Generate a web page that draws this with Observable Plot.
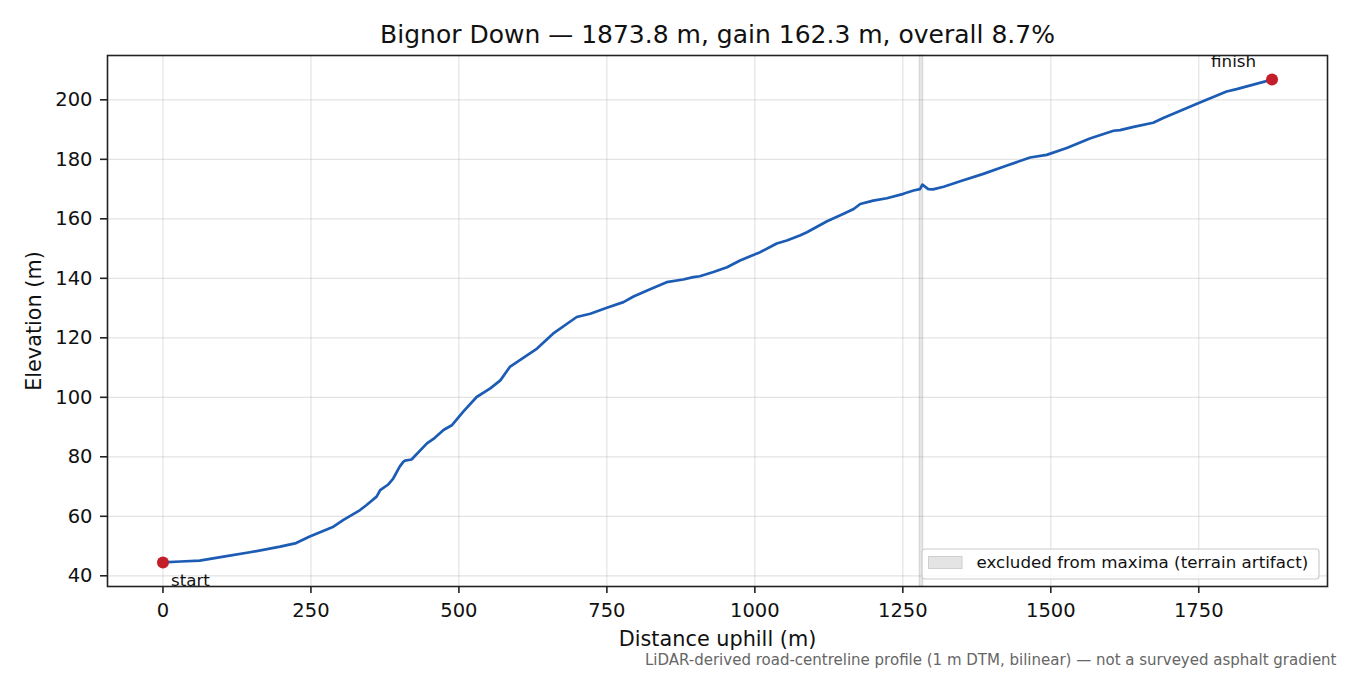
<!DOCTYPE html>
<html>
<head>
<meta charset="utf-8">
<script src="https://cdn.jsdelivr.net/npm/d3@7"></script>
<script src="https://cdn.jsdelivr.net/npm/@observablehq/plot@0.6"></script>
<style>
  html, body { margin: 0; padding: 0; background: #fff; }
  #chart { width: 1350px; height: 675px; }
</style>
</head>
<body>
<div id="chart"></div>
<script>
const distance = [0, 30, 62, 105, 147, 198, 225, 248, 288, 305, 333, 344, 361, 367, 380, 389, 400, 406, 409, 420, 446, 457, 474, 488, 507, 530, 553, 570, 586, 615, 632, 659, 699, 722, 750, 778, 795, 823, 851, 879, 896, 907, 930, 953, 975, 1009, 1037, 1054, 1076, 1088, 1122, 1150, 1167, 1178, 1200, 1223, 1251, 1268, 1279, 1283, 1293, 1301, 1319, 1347, 1386, 1426, 1465, 1493, 1527, 1566, 1606, 1617, 1640, 1673, 1690, 1719, 1752, 1797, 1814, 1873.8];
const elevation = [44.5, 44.8, 45.1, 46.5, 47.9, 49.8, 51.0, 53.2, 56.5, 58.8, 62.1, 63.8, 66.6, 68.8, 70.6, 72.7, 76.7, 78.3, 78.7, 79.1, 84.5, 86.0, 89.0, 90.6, 95.1, 100.1, 103.0, 105.7, 110.2, 114.1, 116.4, 121.4, 127.0, 128.1, 130.1, 132.0, 133.9, 136.3, 138.7, 139.6, 140.4, 140.7, 142.1, 143.7, 146.0, 148.8, 151.7, 152.7, 154.4, 155.5, 159.2, 161.7, 163.3, 165.0, 166.1, 166.9, 168.4, 169.5, 170.0, 171.5, 170.0, 169.9, 170.8, 172.6, 175.1, 177.9, 180.6, 181.5, 183.8, 187.0, 189.6, 189.8, 190.9, 192.3, 193.9, 196.3, 199.1, 202.8, 203.6, 206.8];
const endpointLabels = ["start", "finish"];
const excludedBand = [1278.5, 1284.5];
const xTicks = [0, 250, 500, 750, 1000, 1250, 1500, 1750];
const yTicks = [40, 60, 80, 100, 120, 140, 160, 180, 200];
const titleText = "Bignor Down — 1873.8 m, gain 162.3 m, overall 8.7%";
const xLabel = "Distance uphill (m)";
const yLabel = "Elevation (m)";
const captionText = "LiDAR-derived road-centreline profile (1 m DTM, bilinear) — not a surveyed asphalt gradient";
const legendLabel = "excluded from maxima (terrain artifact)";

const profile = distance.map((d, i) => ({d, e: elevation[i]}));
const ends = [
  {d: distance[0], e: elevation[0], label: endpointLabels[0]},
  {d: distance[distance.length - 1], e: elevation[elevation.length - 1], label: endpointLabels[1]}
];
const band = [{x1: excludedBand[0], x2: excludedBand[1]}];

const font = "DejaVu Sans, sans-serif";

const chart = Plot.plot({
  width: 1350,
  height: 675,
  marginLeft: 107,
  marginRight: 23,
  marginTop: 55,
  marginBottom: 89,
  style: {fontFamily: font, background: "#fff", overflow: "visible"},
  x: {domain: [-93.7, 1967.5], ticks: xTicks},
  y: {domain: [36.4, 214.9], ticks: yTicks},
  marks: [
    Plot.gridX(xTicks, {stroke: "#b0b0b0", strokeOpacity: 0.35, strokeWidth: 1.2}),
    Plot.gridY(yTicks, {stroke: "#b0b0b0", strokeOpacity: 0.35, strokeWidth: 1.2}),
    Plot.rectX(band, {x1: "x1", x2: "x2", fill: "#9a9a9a", fillOpacity: 0.25, stroke: "#9a9a9a", strokeOpacity: 0.35, strokeWidth: 1}),
    Plot.line(profile, {x: "d", y: "e", stroke: "#1c5cb4", strokeWidth: 2.7, strokeLinejoin: "round"}),
    Plot.dot(ends, {x: "d", y: "e", r: 6, fill: "#c41e2a", stroke: "none"}),
    Plot.text(ends.slice(0, 1), {x: "d", y: "e", text: "label", textAnchor: "start", lineAnchor: "middle", dx: 8, dy: 18, fontSize: 16.7, fill: "#111"}),
    Plot.text(ends.slice(1), {x: "d", y: "e", text: "label", textAnchor: "end", lineAnchor: "middle", dx: -16, dy: -18, fontSize: 16.7, fill: "#111"}),
    Plot.frame({stroke: "#222", strokeWidth: 1.6}),
    Plot.axisX(xTicks, {tickSize: 7, tickPadding: 10, fontSize: 19.5, stroke: "#222", strokeWidth: 1.6, fill: "#111", label: null, tickFormat: d3.format("d")}),
    Plot.axisY(yTicks, {tickSize: 7, tickPadding: 8, fontSize: 19.5, stroke: "#222", strokeWidth: 1.6, fill: "#111", label: null, tickFormat: d3.format("d")}),
    Plot.text([titleText], {frameAnchor: "top", lineAnchor: "middle", textAnchor: "middle", dy: -21, fontSize: 25, fill: "#111"}),
    Plot.text([xLabel], {frameAnchor: "bottom", lineAnchor: "middle", textAnchor: "middle", dy: 53, fontSize: 20.8, fill: "#111"}),
    Plot.text([yLabel], {frameAnchor: "left", lineAnchor: "middle", textAnchor: "middle", dx: -73, rotate: -90, fontSize: 20.8, fill: "#111"}),
    Plot.text([captionText], {frameAnchor: "bottom-right", lineAnchor: "middle", textAnchor: "end", dx: 9, dy: 74, fontSize: 15, fill: "#666"})
  ]
});

document.getElementById("chart").appendChild(chart);

// Legend box (matplotlib-style) in the lower-right corner of the frame
const svg = d3.select(chart);
const lg = svg.append("g").attr("font-family", font).attr("text-anchor", "start");
lg.append("rect").attr("x", 922).attr("y", 549).attr("width", 397).attr("height", 30)
  .attr("rx", 3).attr("fill", "#fff").attr("fill-opacity", 0.8).attr("stroke", "#cccccc").attr("stroke-width", 1.2);
lg.append("rect").attr("x", 928.5).attr("y", 556.5).attr("width", 33.5).attr("height", 12)
  .attr("fill", "#e4e4e4").attr("stroke", "#cfcfcf").attr("stroke-width", 1);
lg.append("text").attr("x", 976.5).attr("y", 562.5).attr("dy", "0.32em").attr("text-anchor", "start")
  .attr("font-size", 16.7).attr("fill", "#111").text(legendLabel);
</script>
</body>
</html>
